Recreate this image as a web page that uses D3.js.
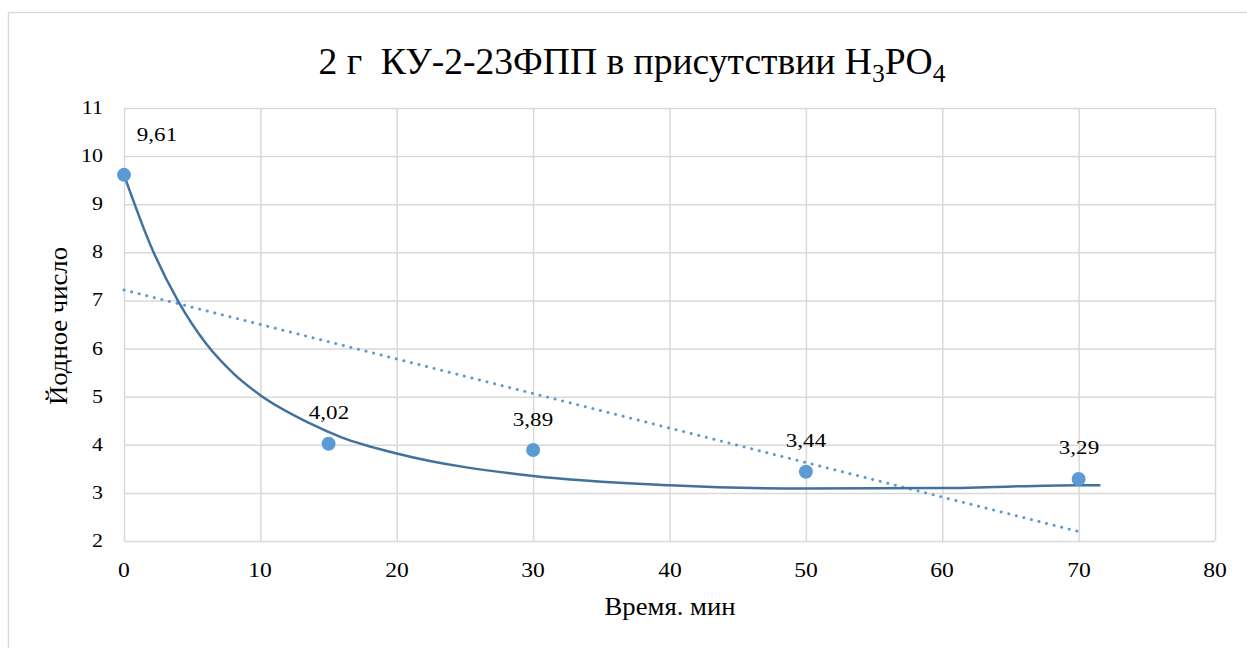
<!DOCTYPE html>
<html><head><meta charset="utf-8">
<script src="https://cdn.jsdelivr.net/npm/d3@7/dist/d3.min.js"></script>
<style>
body{margin:0;background:#fff}
#wrap{position:relative;width:1247px;height:648px;overflow:hidden}
#c{position:absolute;left:0;top:0;display:block}
#txt{position:absolute;left:0;top:0;width:1247px;height:648px}
.t{position:absolute;line-height:1;white-space:nowrap;color:#000;font-family:"Liberation Serif","Times New Roman",serif}
.sub{font-size:0.68em;position:relative;top:0.3em}
</style>
</head><body>
<div id="wrap"><svg id="c" width="1247" height="648"></svg><div id="txt"></div></div>
<script>
const timeMin = [0, 15, 30, 50, 70];
const iodineNumber = [9.61, 4.02, 3.89, 3.44, 3.29];
const valueLabels = ["9,61", "4,02", "3,89", "3,44", "3,29"];
// solid trend curve
const curveX = [0, 2, 4, 6, 8, 10, 13.6, 16, 20, 30, 40, 50, 60, 70, 71.6];
const curveY = [9.61, 8.11, 6.97, 6.11, 5.49, 5.03, 4.45, 4.15, 3.82, 3.35, 3.16, 3.09, 3.10, 3.16, 3.16];
const xTicks = [0, 10, 20, 30, 40, 50, 60, 70, 80];
const yTicks = [2, 3, 4, 5, 6, 7, 8, 9, 10, 11];
const xTickLabels = ["0", "10", "20", "30", "40", "50", "60", "70", "80"];
const yTickLabels = ["2", "3", "4", "5", "6", "7", "8", "9", "10", "11"];

const svg = d3.select("#c");
const layer = d3.select("#txt");
svg.append("rect").attr("x", 8.5).attr("y", 12.5).attr("width", 1260).attr("height", 660)
  .attr("fill", "#fff").attr("stroke", "#d9d9d9").attr("stroke-width", 1.5);

const x = d3.scaleLinear().domain([0, 80]).range([124, 1215]);
const y = d3.scaleLinear().domain([2, 11]).range([541, 108]);

// gridlines via d3 axes
svg.append("g").attr("transform", `translate(0,${y(2)})`)
  .call(d3.axisBottom(x).tickValues(xTicks).tickSize(-(y(2) - y(11))).tickFormat(""))
  .call(g => g.select(".domain").remove())
  .selectAll("line").attr("stroke", "#d9d9d9").attr("stroke-width", 1.5);
svg.append("g").attr("transform", `translate(${x(0)},0)`)
  .call(d3.axisLeft(y).tickValues(yTicks).tickSize(-(x(80) - x(0))).tickFormat(""))
  .call(g => g.select(".domain").remove())
  .selectAll("line").attr("stroke", "#d9d9d9").attr("stroke-width", 1.5);

// linear trend (least squares)
const mx = d3.mean(timeMin), my = d3.mean(iodineNumber);
const slope = d3.sum(timeMin, (t, i) => (t - mx) * (iodineNumber[i] - my)) / d3.sum(timeMin, t => (t - mx) ** 2);
const icpt = my - slope * mx;
svg.append("line")
  .attr("x1", x(0)).attr("y1", y(icpt)).attr("x2", x(70)).attr("y2", y(icpt + slope * 70))
  .attr("stroke", "#5b9bd5").attr("stroke-width", 3).attr("stroke-linecap", "round")
  .attr("stroke-dasharray", "0.1 7.7");

const line = d3.line().x(d => x(d[0])).y(d => y(d[1])).curve(d3.curveMonotoneX);
svg.append("path").datum(curveX.map((v, i) => [v, curveY[i]]))
  .attr("d", line).attr("fill", "none").attr("stroke", "#41719c").attr("stroke-width", 2.5);

svg.selectAll(".pt").data(timeMin).join("circle")
  .attr("cx", d => x(d)).attr("cy", (d, i) => y(iodineNumber[i])).attr("r", 7)
  .attr("fill", "#5b9bd5");

// text helper: anchor "middle" or "end"; sx = horizontal stretch; fitW = target width
function addText(html, px, py, size, o = {}) {
  const d = layer.append("div").attr("class", "t")
    .style("left", px + "px").style("top", py + "px").style("font-size", size + "px").html(html);
  let sx = o.sx || 1;
  if (o.fitW) sx = o.fitW / d.node().getBoundingClientRect().width;
  if (o.anchor === "end") {
    d.style("transform-origin", "100% 50%").style("transform", `translate(-100%,-50%) scaleX(${sx})`);
  } else {
    d.style("transform", `translate(-50%,-50%)${o.rotate ? " rotate(" + o.rotate + "deg)" : ""} scaleX(${sx})`);
  }
  return d;
}

xTicks.forEach((v, i) => addText(xTickLabels[i], x(v), 570, 20, { sx: 1.18 }));
yTicks.forEach((v, i) => addText(yTickLabels[i], 103, y(v), 18, { anchor: "end", sx: 1.22 }));

timeMin.forEach((t, i) => {
  const px = i === 0 ? x(t) + 33 : x(t);
  const py = i === 0 ? y(iodineNumber[i]) - 39.5 : y(iodineNumber[i]) - 30.5;
  addText(valueLabels[i], px, py, 19.5, { sx: 1.18 });
});

addText("2 г&nbsp; КУ-2-23ФПП в присутствии H<span class='sub'>3</span>PO<span class='sub'>4</span>",
  631.5, 61, 37, { fitW: 627 });
addText("Время. мин", 670, 606.5, 26, { fitW: 131 });
addText("Йодное число", 59, 326, 26, { rotate: -90, fitW: 158 });
</script>
</body></html>
